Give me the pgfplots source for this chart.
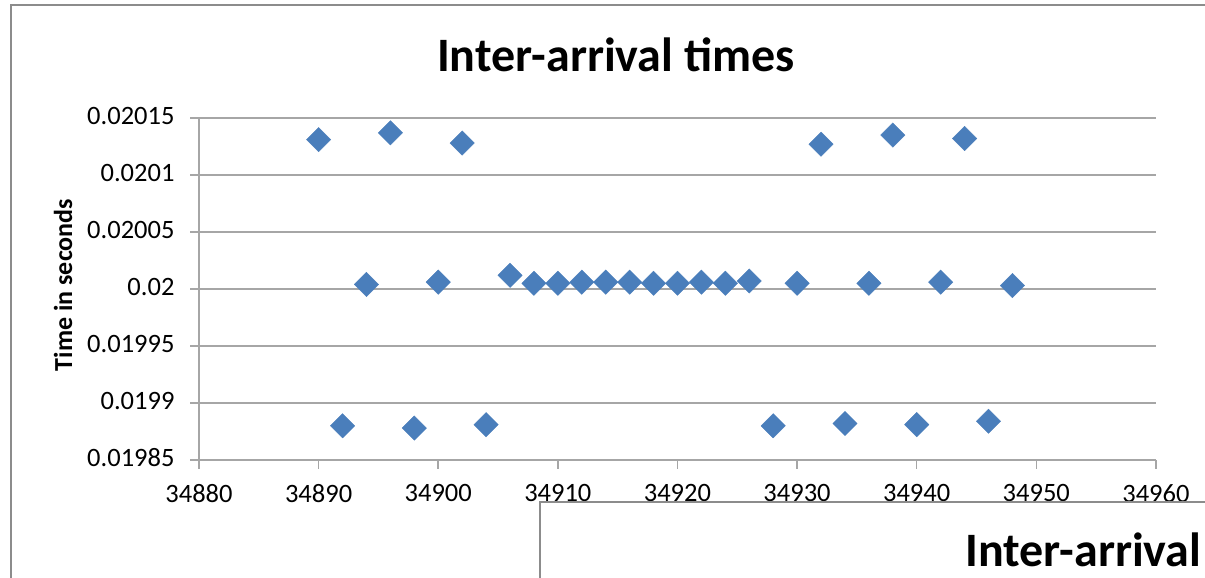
\documentclass[border=0pt]{standalone}
\usepackage{pgfplots}
\pgfplotsset{compat=1.18}
\usepackage{fontspec}
\setmainfont{Carlito}
\definecolor{markblue}{HTML}{4A7EBB}
\definecolor{gridgray}{HTML}{A6A6A6}
\definecolor{framegray}{HTML}{8C8C8C}
\begin{document}
\begin{tikzpicture}[x=1pt,y=1pt]
\useasboundingbox (0,0) rectangle (1205,578);
\clip (0,0) rectangle (1205,578);
\fill[white] (0,0) rectangle (1205,578);
% outer chart frame
\draw[framegray, line width=2.5pt] (11,-10) -- (11,573) -- (1215,573);
\begin{axis}[
  at={(199pt,118pt)}, anchor=south west,
  scale only axis, width=957pt, height=342pt,
  xmin=34880, xmax=34960, ymin=0.01985, ymax=0.02015,
  axis lines=left, axis line style={-, gridgray, line width=1.5pt},
  ymajorgrids, grid style={gridgray, line width=1.5pt},
  scaled x ticks=false, scaled y ticks=false,
  xtick={34880,34890,...,34960},
  xticklabels={34880,34890,34900,34910,34920,34930,34940,34950,34960},
  ytick={0.01985,0.0199,0.01995,0.02,0.02005,0.0201,0.02015},
  yticklabels={0.01985,0.0199,0.01995,0.02,0.02005,0.0201,0.02015},
  tick align=outside, major tick length=9pt,
  xtick style={draw=gridgray, line width=1.5pt},
  ytick style={draw=gridgray, line width=1.5pt},
  ticklabel style={font=\fontsize{26.5}{30}\selectfont, text=black},
  xticklabel style={yshift=-12pt},
  yticklabel style={xshift=-12pt, yshift=2pt},
  /pgf/number format/assume math mode=true,
  title={\textbf{Inter-arrival times}},
  title style={at={(axis description cs:0.4357,1.117)}, anchor=base,
    font=\fontsize{48}{54}\selectfont, inner sep=0pt},
  ylabel={\textbf{Time in seconds}},
  ylabel style={at={(axis description cs:-0.1421,0.5117)}, anchor=center,
    font=\fontsize{26}{30}\selectfont},
  clip=false,
]
\addplot[only marks, mark=square*, mark size=8.6pt,
  mark options={rotate=45, fill=markblue, draw=markblue}]
  coordinates {
  (34890,0.020131) (34892,0.019880) (34894,0.020004) (34896,0.020137)
  (34898,0.019878) (34900,0.020006) (34902,0.020128) (34904,0.019881)
  (34906,0.020012) (34908,0.020005) (34910,0.020005) (34912,0.020006)
  (34914,0.020006) (34916,0.020006) (34918,0.020005) (34920,0.020005)
  (34922,0.020006) (34924,0.020005) (34926,0.020007) (34928,0.019880)
  (34930,0.020005) (34932,0.020127) (34934,0.019882) (34936,0.020005)
  (34938,0.020135) (34940,0.019881) (34942,0.020006) (34944,0.020132)
  (34946,0.019884) (34948,0.020003)
  };
\end{axis}
% neighbouring chart overlapping at the bottom right
\fill[white] (540,-10) rectangle (1215,76);
\draw[framegray, line width=2.5pt] (540,-10) -- (540,76) -- (1215,76);
\node[anchor=base west, inner sep=0pt, font=\fontsize{48}{54}\selectfont\bfseries]
  at (965,11) {Inter-arrival};
\end{tikzpicture}
\end{document}
